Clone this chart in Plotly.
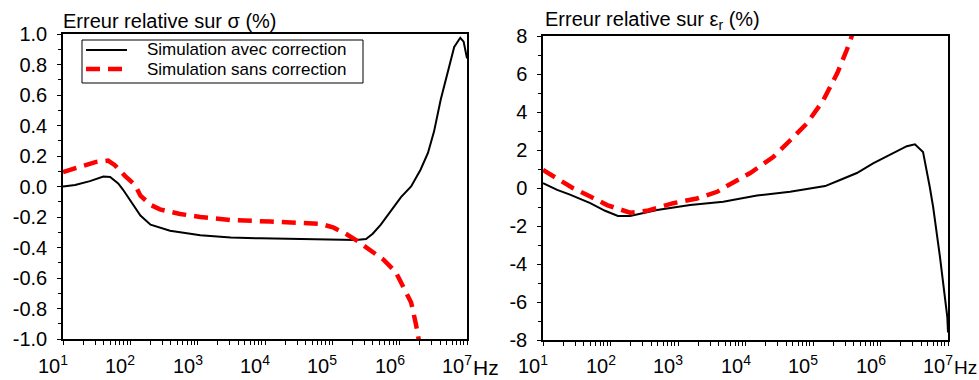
import plotly.graph_objects as go

# ---- data (log10 of frequency in Hz, relative error in %) ----
sig_avec_logf = [1.0, 1.18, 1.40, 1.60, 1.70, 1.82, 1.89, 2.0, 2.15, 2.30, 2.59, 3.04, 3.49, 3.93,
                 4.83, 5.35, 5.50, 5.60, 5.72, 5.87, 6.02, 6.17, 6.31, 6.42, 6.51, 6.61, 6.72,
                 6.81, 6.90, 6.95, 7.0]
sig_avec_val = [0.0, 0.01, 0.035, 0.065, 0.062, 0.02, -0.02, -0.09, -0.19, -0.25, -0.29, -0.32,
                -0.335, -0.34, -0.345, -0.35, -0.345, -0.31, -0.25, -0.16, -0.07, 0.0, 0.11,
                0.22, 0.36, 0.57, 0.75, 0.915, 0.975, 0.95, 0.84]

sig_sans_logf = [1.0, 1.25, 1.48, 1.67, 1.77, 1.92, 2.07, 2.15, 2.30, 2.44, 2.74, 3.04, 3.49, 4.08,
                 4.83, 5.02, 5.20, 5.38, 5.57, 5.76, 5.94, 6.06, 6.17, 6.24, 6.29]
sig_sans_val = [0.095, 0.13, 0.16, 0.17, 0.14, 0.07, 0.01, -0.06, -0.12, -0.15, -0.18, -0.2,
                -0.22, -0.23, -0.245, -0.27, -0.31, -0.36, -0.42, -0.48, -0.56, -0.66, -0.76,
                -0.90, -1.02]

eps_avec_logf = [1.0, 1.21, 1.40, 1.70, 1.92, 2.11, 2.29, 2.69, 3.18, 3.67, 4.17, 4.66, 4.91,
                 5.18, 5.40, 5.65, 5.89, 6.14, 6.39, 6.51, 6.63, 6.73, 6.78, 6.88, 6.99, 7.0]
eps_avec_val = [0.26, -0.1, -0.35, -0.8, -1.2, -1.47, -1.47, -1.16, -0.9, -0.72, -0.4, -0.2,
                -0.05, 0.1, 0.42, 0.79, 1.3, 1.74, 2.2, 2.3, 1.9, 0.05, -1.0, -3.6, -6.8, -7.6]

eps_sans_logf = [1.0, 1.44, 1.70, 1.95, 2.29, 2.54, 2.93, 3.28, 3.58, 3.67, 4.07, 4.41, 4.66,
                 4.91, 5.15, 5.36, 5.50, 5.58]
eps_sans_val = [0.95, 0.0, -0.45, -0.9, -1.3, -1.2, -0.8, -0.55, -0.2, 0.0, 0.79, 1.63, 2.5,
                3.4, 4.6, 6.05, 7.26, 8.05]

x_tick_exp = [1, 2, 3, 4, 5, 6, 7]
x_tick_text = ["10<sup>1</sup>", "10<sup>2</sup>", "10<sup>3</sup>", "10<sup>4</sup>",
               "10<sup>5</sup>", "10<sup>6</sup>", "10<sup>7</sup>"]
x_minor_vals = [m * 10 ** d for d in range(1, 7) for m in range(2, 10)]

sig_tick_vals = [1.0, 0.8, 0.6, 0.4, 0.2, 0.0, -0.2, -0.4, -0.6, -0.8, -1.0]
eps_tick_vals = [8, 6, 4, 2, 0, -2, -4, -6, -8]

name_avec = "Simulation avec correction"
name_sans = "Simulation sans correction"
title_sig = "Erreur relative sur σ (%)"
title_eps = "Erreur relative sur ε<sub>r</sub> (%)"
unit_text = "Hz"

FONT = "Liberation Sans, Arial, sans-serif"
W, H = 979, 380


def px(x):
    return x / W


def py(y):
    return 1 - y / H


fig = go.Figure()
fig.add_trace(go.Scatter(x=[10 ** v for v in sig_avec_logf], y=sig_avec_val, mode="lines",
                         name=name_avec, line=dict(color="black", width=2),
                         xaxis="x", yaxis="y"))
fig.add_trace(go.Scatter(x=[10 ** v for v in sig_sans_logf], y=sig_sans_val, mode="lines",
                         name=name_sans, line=dict(color="#ff0000", width=4.5, dash="14px,8px"),
                         xaxis="x", yaxis="y"))
fig.add_trace(go.Scatter(x=[10 ** v for v in eps_avec_logf], y=eps_avec_val, mode="lines",
                         name=name_avec, line=dict(color="black", width=2),
                         xaxis="x2", yaxis="y2"))
fig.add_trace(go.Scatter(x=[10 ** v for v in eps_sans_logf], y=eps_sans_val, mode="lines",
                         name=name_sans, line=dict(color="#ff0000", width=4.5, dash="14px,8px"),
                         xaxis="x2", yaxis="y2"))

xcommon = dict(type="log", range=[1, 7], tickmode="array",
               tickvals=[10 ** e for e in x_tick_exp], showticklabels=False,
               ticks="outside", ticklen=4, tickcolor="black",
               showgrid=False, zeroline=False, showline=True, linecolor="black", linewidth=1.5,
               mirror=True,
               minor=dict(tickmode="array", tickvals=x_minor_vals, ticks="outside",
                          ticklen=4, tickcolor="black", showgrid=False))
ycommon = dict(ticks="outside", ticklen=4, tickcolor="black", showgrid=False, zeroline=False,
               showline=True, linecolor="black", linewidth=1.5, mirror=True,
               ticklabelstandoff=6,
               tickfont=dict(size=20, color="black", family=FONT))

fig.update_layout(
    width=W, height=H,
    margin=dict(l=0, r=0, t=0, b=0, autoexpand=False),
    paper_bgcolor="white", plot_bgcolor="white",
    font=dict(family=FONT, color="black"),
    showlegend=False,
    xaxis=dict(domain=[px(63), px(467)], anchor="y", **xcommon),
    yaxis=dict(domain=[py(339), py(34)], anchor="x", range=[-1.0, 1.0],
               tickmode="array", tickvals=sig_tick_vals,
               ticktext=[f"{v:.1f}" for v in sig_tick_vals],
               minor=dict(dtick=0.1, ticks="outside", ticklen=3, tickcolor="black"),
               **ycommon),
    xaxis2=dict(domain=[px(543), px(948)], anchor="y2", **xcommon),
    yaxis2=dict(domain=[py(340), py(36)], anchor="x2", range=[-8, 8],
                tickmode="array", tickvals=eps_tick_vals,
                ticktext=[str(v) for v in eps_tick_vals],
                minor=dict(dtick=1, ticks="outside", ticklen=3, tickcolor="black"),
                **ycommon),
)

# x tick labels (10^n), placed on the axis scale
for xa in ["x", "x2"]:
    for e, t in zip(x_tick_exp, x_tick_text):
        fig.add_annotation(text=t, xref=xa, yref="paper", x=e, y=py(379),
                           xanchor="left", yanchor="bottom", xshift=-27, showarrow=False,
                           font=dict(size=20, color="black", family=FONT))

# legend box (left panel)
fig.add_shape(type="rect", xref="paper", yref="paper", x0=px(82), x1=px(363),
              y0=py(83), y1=py(40), line=dict(color="black", width=1), fillcolor="white")
fig.add_shape(type="line", xref="paper", yref="paper", x0=px(86), x1=px(127),
              y0=py(50), y1=py(50), line=dict(color="black", width=2))
fig.add_shape(type="line", xref="paper", yref="paper", x0=px(86), x1=px(125),
              y0=py(69), y1=py(69), line=dict(color="#ff0000", width=4.5, dash="14px,8px"))
fig.add_annotation(text=name_avec, xref="paper", yref="paper", x=px(145), y=py(50),
                   xanchor="left", yanchor="middle", showarrow=False,
                   font=dict(size=17, color="black", family=FONT))
fig.add_annotation(text=name_sans, xref="paper", yref="paper", x=px(145), y=py(69),
                   xanchor="left", yanchor="middle", showarrow=False,
                   font=dict(size=17, color="black", family=FONT))

fig.add_annotation(text=title_sig, xref="paper", yref="paper", x=px(61), y=py(21),
                   xanchor="left", yanchor="middle", showarrow=False,
                   font=dict(size=20, color="black", family=FONT))
fig.add_annotation(text=title_eps, xref="paper", yref="paper", x=px(543), y=py(21),
                   xanchor="left", yanchor="middle", showarrow=False,
                   font=dict(size=20, color="black", family=FONT))
fig.add_annotation(text=unit_text, xref="paper", yref="paper", x=px(471), y=py(367),
                   xanchor="left", yanchor="middle", showarrow=False,
                   font=dict(size=21, color="black", family=FONT))
fig.add_annotation(text=unit_text, xref="paper", yref="paper", x=px(952), y=py(367),
                   xanchor="left", yanchor="middle", showarrow=False,
                   font=dict(size=19, color="black", family=FONT))

fig.write_html("out.html",
               config={"displayModeBar": False},
               post_script="document.body.style.margin='0px';"
                           "document.body.style.overflow='hidden';")
